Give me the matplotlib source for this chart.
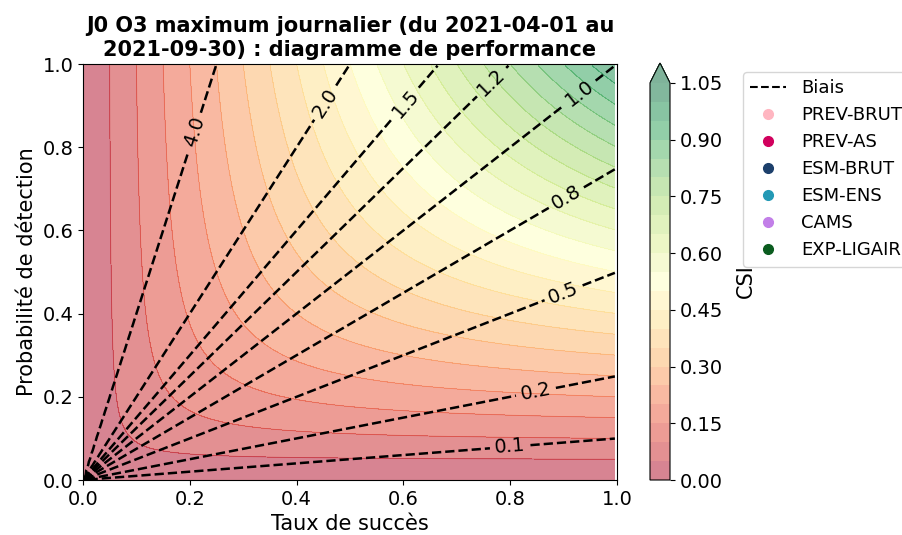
import matplotlib
matplotlib.use('Agg')
import matplotlib.pyplot as plt
import numpy as np

plt.rcParams['font.size'] = 14

titre = "J0 O3 maximum journalier (du 2021-04-01 au\n2021-09-30) : diagramme de performance"
niveaux_csi = np.arange(0, 1.1, 0.05)
ticks_csi = [0.0, 0.15, 0.30, 0.45, 0.60, 0.75, 0.90, 1.05]
niveaux_biais = [0.1, 0.25, 0.5, 0.75, 1.0, 1.25, 1.5, 2.0, 4.0]
# positions des etiquettes de biais (sr, pod)
pos_etiquettes = [(0.8, 0.08), (0.85, 0.2), (0.9, 0.45), (0.9, 0.69), (0.93, 0.93),
                  (0.77, 0.95), (0.6, 0.91), (0.45, 0.91), (0.2, 0.84)]
modeles = ['PREV-BRUT', 'PREV-AS', 'ESM-BRUT', 'ESM-ENS', 'CAMS', 'EXP-LIGAIR']
couleurs = ['#ffb6c1', '#d1005d', '#1c3f6b', '#2399b5', '#c27fe8', '#0a5c1f']

grille = np.arange(0.001, 1.001, 0.005)
sr_g, pod_g = np.meshgrid(grille, grille)
biais = pod_g / sr_g
csi = 1.0 / (1.0 / sr_g + 1.0 / pod_g - 1.0)

fig = plt.figure(figsize=(9.02, 5.35), dpi=100)
ax = fig.add_axes([83 / 902, 1 - 480 / 535, 534 / 902, 416 / 535])
cax = fig.add_axes([650 / 902, 1 - 480 / 535, 20 / 902, 417 / 535])

cs = ax.contourf(sr_g, pod_g, csi, levels=niveaux_csi, extend='max', cmap='RdYlGn', alpha=0.5)
ax.contour(sr_g, pod_g, csi, levels=niveaux_csi, cmap='RdYlGn', alpha=0.3, linewidths=0.6)
cb = fig.colorbar(cs, cax=cax, ticks=ticks_csi, format='%.2f')
cb.set_label('CSI', fontsize=15, labelpad=9)

b = ax.contour(sr_g, pod_g, biais, levels=niveaux_biais, colors='k', linestyles='dashed', linewidths=1.8)
ax.clabel(b, fmt='%1.1f', manual=pos_etiquettes, fontsize=14)

ax.plot([], [], 'k--', label='Biais')
for nom, c in zip(modeles, couleurs):
    ax.plot([], [], 'o', color=c, label=nom, markersize=7)

ax.set_xlim(0, 1)
ax.set_ylim(0, 1)
ax.set_xlabel('Taux de succès', fontsize=15)
ax.set_ylabel('Probabilité de détection', fontsize=15)
ax.set_title(titre, fontweight='bold', fontsize=15)
ax.set_xticks([0, 0.2, 0.4, 0.6, 0.8, 1.0])
ax.set_yticks([0, 0.2, 0.4, 0.6, 0.8, 1.0])

fig.legend(loc='upper left', bbox_to_anchor=(743 / 902, 1 - 72 / 535), fontsize=13, borderaxespad=0)

plt.savefig('out.png', dpi=100)
plt.close()
